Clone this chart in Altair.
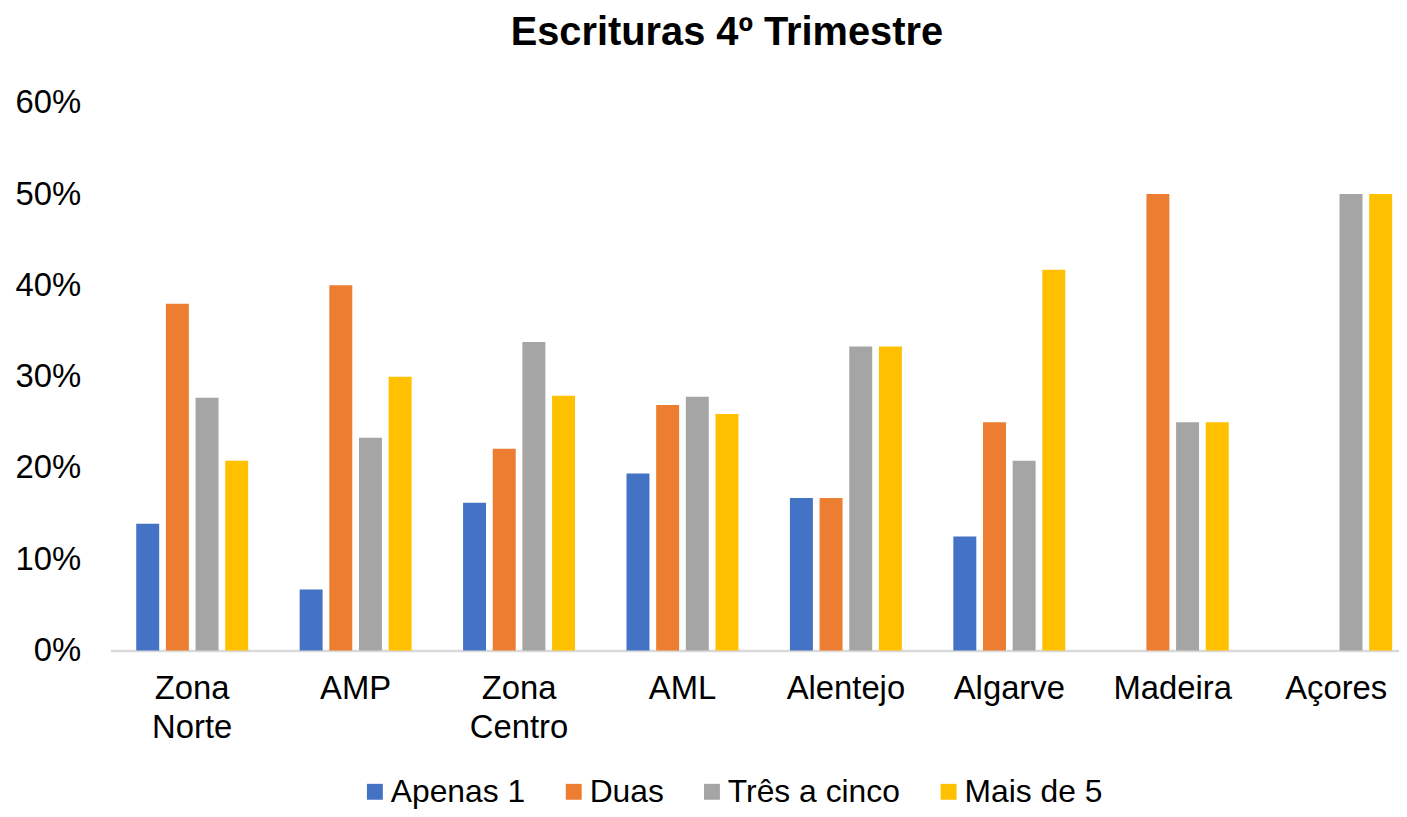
import altair as alt
import pandas as pd

regions = ["Zona Norte", "AMP", "Zona Centro", "AML", "Alentejo", "Algarve", "Madeira", "Açores"]
series = ["Apenas 1", "Duas", "Três a cinco", "Mais de 5"]
colors = ["#4472C4", "#ED7D31", "#A5A5A5", "#FFC000"]

apenas1 = [0.139, 0.067, 0.162, 0.194, 0.167, 0.125, 0.0, 0.0]
duas = [0.380, 0.400, 0.221, 0.269, 0.167, 0.250, 0.500, 0.0]
tres_a_cinco = [0.277, 0.233, 0.338, 0.278, 0.333, 0.208, 0.250, 0.500]
mais_de_5 = [0.208, 0.300, 0.279, 0.259, 0.333, 0.417, 0.250, 0.500]

rows = []
for name, vals in zip(series, [apenas1, duas, tres_a_cinco, mais_de_5]):
    for r, v in zip(regions, vals):
        rows.append({"Região": r, "Série": name, "Valor": v})
df = pd.DataFrame(rows)

FONT = "Liberation Sans"

chart = alt.Chart(df).mark_bar().encode(
    x=alt.X("Região:N", sort=regions, title=None,
            scale=alt.Scale(paddingInner=0.315, paddingOuter=0.1, align=0.79),
            axis=alt.Axis(labelAngle=0, labelExpr="split(datum.label, ' ')",
                          labelFontSize=33, labelFont=FONT, labelColor="#000000",
                          labelPadding=22, labelLineHeight=39, labelBaseline="top",
                          ticks=False, domainColor="#D9D9D9", domainWidth=2.5)),
    xOffset=alt.XOffset("Série:N", sort=series,
                        scale=alt.Scale(paddingInner=0.226, paddingOuter=0)),
    y=alt.Y("Valor:Q", title=None,
            scale=alt.Scale(domain=[0, 0.6], nice=False),
            axis=alt.Axis(format=".0%", values=[0, 0.1, 0.2, 0.3, 0.4, 0.5, 0.6],
                          grid=False, domain=False, ticks=False,
                          labelFontSize=33, labelFont=FONT, labelColor="#000000",
                          labelPadding=30)),
    color=alt.Color("Série:N", sort=series,
                    scale=alt.Scale(domain=series, range=colors),
                    legend=alt.Legend(title=None, orient="none", direction="horizontal",
                                      legendX=250, legendY=677,
                                      symbolType="square", symbolSize=256,
                                      symbolStrokeWidth=0, symbolOpacity=1,
                                      labelFontSize=32, labelFont=FONT, labelColor="#000000",
                                      labelLimit=400, labelOffset=0, columnPadding=32)),
).properties(
    width=1296,
    height=551,
    title=alt.TitleParams("Escrituras 4º Trimestre", fontSize=40, font=FONT,
                          fontWeight="bold", color="#000000", anchor="middle",
                          dx=-28, offset=34),
    padding={"left": 103, "top": 93, "right": 0, "bottom": 157},
    autosize=alt.AutoSizeParams(type="none"),
).configure_view(stroke=None)

chart.save("out.html", embed_options={"renderer": "svg", "actions": False})
